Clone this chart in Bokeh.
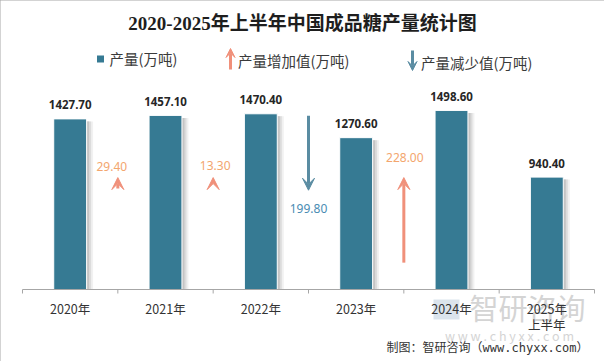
from bokeh.plotting import figure
from bokeh.models import (Range1d, Arrow, VeeHead, Label, ColumnDataSource)
from bokeh.core.properties import value
from bokeh.embed import file_html
from bokeh.resources import INLINE

# ---------------- data ----------------
years = ["2020年", "2021年", "2022年", "2023年", "2024年", "2025年\n上半年"]
output = [1427.70, 1457.10, 1470.40, 1270.60, 1498.60, 940.40]
output_labels = ["1427.70", "1457.10", "1470.40", "1270.60", "1498.60", "940.40"]

# changes between consecutive years (shown between the bars)
change_after = [0, 1, 2, 3]          # index of the first year of each pair
changes = [29.40, 13.30, -199.80, 228.00]
change_labels = ["29.40", "13.30", "199.80", "228.00"]

title_text = "2020-2025年上半年中国成品糖产量统计图"
legend_texts = ["产量(万吨)", "产量增加值(万吨)", "产量减少值(万吨)"]
source_text = "制图：智研咨询（www.chyxx.com）"

# ---------------- layout / style ----------------
W, H = 604, 361
AXIS_L, AXIS_R, BASE_Y = 22, 594, 289   # canvas px of the category axis
TICK = 4
PX_PER_UNIT = 0.1195          # output axis
PX_PER_DELTA = 0.373          # change-arrow axis
UP_TIP = 300.0                # level of up-arrow tips (delta axis)
DOWN_TOP = 466.0              # level of down-arrow tails (delta axis)
N = len(years)
CAT_PX = (AXIS_R - AXIS_L) / N
BAR_W = 0.345

BAR_COLOR = "#367A93"
UP_COLOR = "#F0907A"
UP_TEXT = "#F3A66E"
DOWN_COLOR = "#5A8CA2"
DOWN_TEXT = "#4A8CB3"
AXIS_COLOR = "#a6a6a6"
CJK = "'Noto Sans CJK SC'"

# frame covers the whole canvas; ranges are set so the axis lands at AXIS_*/BASE_Y
x_start = -AXIS_L / CAT_PX
x_end = x_start + W / CAT_PX
y_start = -(H - BASE_Y) / PX_PER_UNIT
y_end = y_start + H / PX_PER_UNIT
d_start = -(H - BASE_Y) / PX_PER_DELTA
d_end = d_start + H / PX_PER_DELTA

centers = [i + 0.5 for i in range(N)]

p = figure(width=W, height=H, x_range=Range1d(x_start, x_end),
           y_range=Range1d(y_start, y_end), title=None,
           output_backend="svg", toolbar_location=None,
           x_axis_location=None, y_axis_location=None,
           min_border_left=0, min_border_right=0,
           min_border_top=0, min_border_bottom=0)
p.extra_y_ranges = {"delta": Range1d(d_start, d_end), "cy": Range1d(H, 0)}
p.extra_x_ranges = {"cx": Range1d(0, W)}
p.outline_line_color = None
p.xgrid.visible = False
p.ygrid.visible = False
p.background_fill_color = "white"
p.border_fill_color = "white"
p.styles = {"outline": "1px solid #a6a6a6", "outline-offset": "-1px"}

def lab(x, y, text, **kw):
    p.add_layout(Label(x=x, y=y, text=text, x_range_name="cx",
                       y_range_name="cy", **kw))

# watermark (behind everything)
lab(469, 306, "智研咨询", text_font=CJK, text_font_size="29px",
    text_color="#d4d4d4", text_align="left", text_baseline="middle",
    level="underlay")
lab(509, 335, "w w w . c h y x x . c o m", text_font=CJK, text_font_size="12.5px",
    text_color="#d4d4d4", text_align="center", text_baseline="middle",
    level="underlay")
p.quad(left=[433], right=[459], top=[299], bottom=[319], x_range_name="cx",
       y_range_name="cy", fill_color="#dbe4ec", line_color=None, level="underlay")

# ---------------- bars ----------------
src = ColumnDataSource(dict(
    x=centers, out=output, lab=output_labels,
    shadow_top=[v - 2.5 / PX_PER_UNIT for v in output],
    lab_y=[v + 14 / PX_PER_UNIT for v in output],
))
for off, col in [(6.5, "#f1f1f1"), (4.5, "#dcdcdc"), (2.5, "#c4c4c4")]:
    p.vbar(x=[c + off / CAT_PX for c in centers], top=src.data["shadow_top"],
           bottom=0, width=BAR_W, fill_color=col, line_color=None)
p.vbar(x="x", top="out", bottom=0, width=BAR_W, source=src,
       fill_color=BAR_COLOR, line_color="white", line_width=1)
p.text(x="x", y="lab_y", text="lab", source=src,
       text_font=value("Noto Sans"), text_font_style="bold",
       text_font_size="11.5px", text_color="#262626",
       text_align="center", text_baseline="middle")

# ---------------- category axis ----------------
bounds = list(range(N + 1))
p.segment(x0=[0], x1=[N], y0=[0], y1=[0], line_color=AXIS_COLOR, line_width=1)
p.segment(x0=bounds, x1=bounds, y0=[0] * len(bounds),
          y1=[-TICK / PX_PER_UNIT] * len(bounds), line_color=AXIS_COLOR,
          line_width=1)
p.text(x=centers, y=[-9 / PX_PER_UNIT] * N, text=years,
       text_font=value("Noto Sans CJK SC"), text_font_size="12.5px",
       text_color="#333333", text_align="center", text_baseline="top",
       text_line_height=0.87)

# ---------------- change arrows ----------------
lab_gap = [11, 12, 18, 20]
lab_dx = [-6, 2, 0, 1]
up = dict(x=[], y0=[], y1=[])
dn = dict(x=[], y0=[], y1=[])
ulab = dict(x=[], y=[], t=[])
dlab = dict(x=[], y=[], t=[])
for i, d, t, g, dx in zip(change_after, changes, change_labels, lab_gap, lab_dx):
    xb = i + 1
    if d >= 0:
        up["x"].append(xb); up["y0"].append(UP_TIP - d); up["y1"].append(UP_TIP)
        ulab["x"].append(xb + dx / CAT_PX); ulab["y"].append(UP_TIP + g / PX_PER_DELTA)
        ulab["t"].append(t)
    else:
        tip = DOWN_TOP + d
        dn["x"].append(xb); dn["y0"].append(DOWN_TOP); dn["y1"].append(tip)
        dlab["x"].append(xb + dx / CAT_PX); dlab["y"].append(tip - g / PX_PER_DELTA)
        dlab["t"].append(t)

p.add_layout(Arrow(x_start="x", y_start="y0", x_end="x", y_end="y1",
                   source=ColumnDataSource(up), y_range_name="delta",
                   line_color=UP_COLOR, line_width=3,
                   end=VeeHead(size=12, fill_color=UP_COLOR, line_color=UP_COLOR)))
p.add_layout(Arrow(x_start="x", y_start="y0", x_end="x", y_end="y1",
                   source=ColumnDataSource(dn), y_range_name="delta",
                   line_color=DOWN_COLOR, line_width=3,
                   end=VeeHead(size=12, fill_color=DOWN_COLOR, line_color=DOWN_COLOR)))
p.text(x="x", y="y", text="t", source=ColumnDataSource(ulab), y_range_name="delta",
       text_font=value("Noto Sans"), text_font_size="12px", text_color=UP_TEXT,
       text_align="center", text_baseline="middle")
p.text(x="x", y="y", text="t", source=ColumnDataSource(dlab), y_range_name="delta",
       text_font=value("Noto Sans"), text_font_size="12px", text_color=DOWN_TEXT,
       text_align="center", text_baseline="middle")

# ---------------- title / legend / source (canvas-pixel ranges) ----------------
lab(302, 23, title_text, text_font="'Liberation Serif', 'Noto Sans CJK SC'",
    text_font_style="bold", text_font_size="19px", text_color="#1e1e1e",
    text_align="center", text_baseline="middle")

p.rect(x=[100], y=[58.5], width=7, height=7, x_range_name="cx",
       y_range_name="cy", fill_color=BAR_COLOR, line_color=None)
p.add_layout(Arrow(x_start=230, y_start=69, x_end=230, y_end=48,
                   x_range_name="cx", y_range_name="cy",
                   line_color=UP_COLOR, line_width=3,
                   end=VeeHead(size=9, fill_color=UP_COLOR, line_color=UP_COLOR)))
p.add_layout(Arrow(x_start=412, y_start=50, x_end=412, y_end=70,
                   x_range_name="cx", y_range_name="cy",
                   line_color=DOWN_COLOR, line_width=3,
                   end=VeeHead(size=9, fill_color=DOWN_COLOR, line_color=DOWN_COLOR)))
for (lx, ly), t in zip([(109, 58), (237.5, 60), (420.5, 62)], legend_texts):
    lab(lx, ly, t, text_font=CJK, text_font_size="14.5px",
        text_color="#3a3a3a", text_align="left", text_baseline="middle")

lab(588, 347, source_text, text_font="'DejaVu Sans Mono', 'Noto Sans CJK SC'",
    text_font_size="12px", text_color="#333333", text_align="right",
    text_baseline="middle")

open("out.html", "w").write(file_html(p, INLINE))
